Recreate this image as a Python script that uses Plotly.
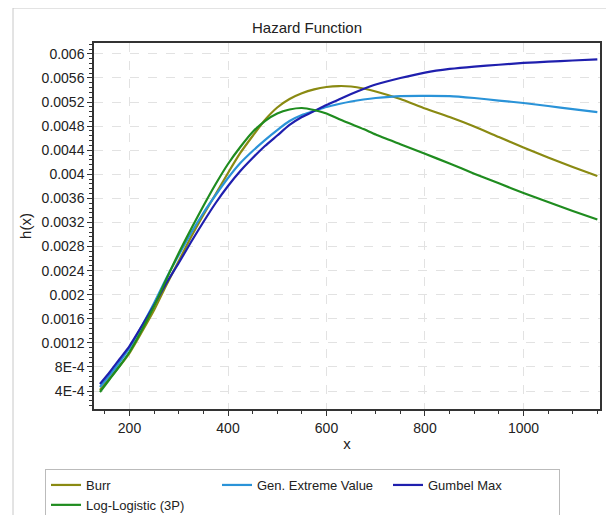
import plotly.graph_objects as go

x_vals = [140, 160, 180, 200, 225, 250, 275, 300, 325, 350, 375, 400, 425, 450, 475, 500,
          525, 550, 575, 600, 625, 650, 675, 700, 750, 800, 850, 900, 950, 1000, 1050, 1100, 1150]

burr = [0.000417, 0.000616, 0.000815, 0.001031, 0.001380, 0.001745, 0.002161, 0.002559,
        0.002958, 0.003324, 0.003672, 0.004021, 0.004354, 0.004636, 0.004902, 0.005109,
        0.005250, 0.005345, 0.005410, 0.005450, 0.005466, 0.005458, 0.005425, 0.005375,
        0.005250, 0.005093, 0.004951, 0.004794, 0.004619, 0.004445, 0.004279, 0.004121, 0.003971]

gev = [0.000466, 0.000666, 0.000882, 0.001114, 0.001480, 0.001862, 0.002277, 0.002659,
       0.003025, 0.003357, 0.003656, 0.003938, 0.004187, 0.004387, 0.004569, 0.004735,
       0.004885, 0.004985, 0.005051, 0.005118, 0.005167, 0.005209, 0.005242, 0.005267,
       0.005300, 0.005303, 0.005300, 0.005267, 0.005225, 0.005184, 0.005134, 0.005084, 0.005034]

gumbel = [0.000516, 0.000716, 0.000932, 0.001147, 0.001480, 0.001829, 0.002194, 0.002526,
          0.002875, 0.003207, 0.003523, 0.003805, 0.004054, 0.004270, 0.004470, 0.004644,
          0.004819, 0.004951, 0.005051, 0.005151, 0.005242, 0.005333, 0.005417, 0.005491,
          0.005599, 0.005690, 0.005750, 0.005790, 0.005820, 0.005850, 0.005870, 0.005890, 0.005910]

loglog = [0.000383, 0.000599, 0.000815, 0.001048, 0.001413, 0.001812, 0.002260, 0.002692,
          0.003091, 0.003473, 0.003838, 0.004171, 0.004453, 0.004702, 0.004885, 0.005010,
          0.005076, 0.005101, 0.005068, 0.005010, 0.004918, 0.004835, 0.004752, 0.004661,
          0.004500, 0.004340, 0.004180, 0.004010, 0.003850, 0.003690, 0.003540, 0.003390, 0.003250]

series_names = ["Burr", "Gen. Extreme Value", "Gumbel Max", "Log-Logistic (3P)"]
series_colors = ["#8a8a12", "#2a93d8", "#1f1fae", "#1f8c1f"]

y_tickvals = [0.0004, 0.0008, 0.0012, 0.0016, 0.002, 0.0024, 0.0028, 0.0032, 0.0036,
              0.004, 0.0044, 0.0048, 0.0052, 0.0056, 0.006]
y_ticktext = ["4E-4", "8E-4", "0.0012", "0.0016", "0.002", "0.0024", "0.0028", "0.0032",
              "0.0036", "0.004", "0.0044", "0.0048", "0.0052", "0.0056", "0.006"]
x_tickvals = [200, 400, 600, 800, 1000]
x_ticktext = ["200", "400", "600", "800", "1000"]

FONT = "Liberation Sans, Arial, sans-serif"

# page has an 8px body margin, so the figure is laid out 8px smaller and shifted
W, H = 606, 507
PL, PR, PT, PB = 86, 592, 35, 401  # plot area in figure pixels
pw, ph = PR - PL, PB - PT

fig = go.Figure()
for name, ys, col in zip(series_names, [burr, gev, gumbel, loglog], series_colors):
    fig.add_trace(go.Scatter(x=x_vals, y=ys, mode="lines", name=name,
                             line=dict(color=col, width=2.2, shape="spline", smoothing=0.6)))

fig.update_layout(
    width=W, height=H,
    margin=dict(l=PL, r=W - PR, t=PT, b=H - PB, autoexpand=False),
    paper_bgcolor="white", plot_bgcolor="white",
    font=dict(family=FONT, size=14, color="#222222"),
    title=dict(text="Hazard Function", x=299 / W, xref="container", xanchor="center",
               y=1 - 20 / H, yref="container", yanchor="middle",
               font=dict(family=FONT, size=15, color="#222222")),
    showlegend=True,
    legend=dict(orientation="h", xref="paper", yref="paper",
                x=(37 - PL) / pw, xanchor="left", y=(PB - 461) / ph, yanchor="top",
                bordercolor="#bbbbbb", borderwidth=1, bgcolor="white",
                entrywidth=126, entrywidthmode="pixels", tracegroupgap=0,
                font=dict(family=FONT, size=13, color="#222222"),
                itemwidth=30),
    shapes=[dict(type="rect", xref="paper", yref="paper",
                 x0=(5 - PL) / pw, x1=(603 - PL) / pw, y0=(PB - 520) / ph, y1=(PB - 0) / ph,
                 line=dict(color="#c8c8c8", width=1), layer="below")],
)

fig.update_xaxes(
    range=[127.9, 1155.4], tickvals=x_tickvals, ticktext=x_ticktext, automargin=False,
    ticks="outside", ticklen=5, tickcolor="#333333",
    showline=True, linecolor="#333333", linewidth=1.5, mirror=True,
    showgrid=True, gridcolor="#e2e2e2", griddash="dash", gridwidth=1,
    zeroline=False,
    minor=dict(dtick=50, tick0=0, ticks="outside", ticklen=3, tickcolor="#333333", showgrid=False),
    title=dict(text="x", font=dict(family=FONT, size=15, color="#222222"), standoff=4),
    tickfont=dict(family=FONT, size=14, color="#222222"),
)
fig.update_yaxes(
    range=[0.000101, 0.006181], tickvals=y_tickvals, ticktext=y_ticktext, automargin=False,
    ticks="outside", ticklen=5, tickcolor="#333333",
    showline=True, linecolor="#333333", linewidth=1.5, mirror=True,
    showgrid=True, gridcolor="#e2e2e2", griddash="dash", gridwidth=1,
    zeroline=False,
    minor=dict(dtick=0.00008, tick0=0, ticks="outside", ticklen=3, tickcolor="#333333", showgrid=False),
    title=dict(text="h(x)", font=dict(family=FONT, size=15, color="#222222"), standoff=6),
    tickfont=dict(family=FONT, size=14, color="#222222"),
)

fig.write_html("out.html")
